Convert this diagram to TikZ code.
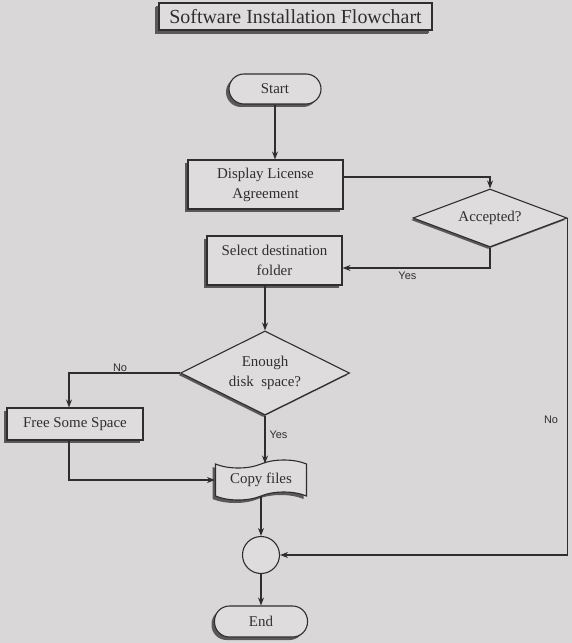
\documentclass[tikz,border=0pt]{standalone}
\usepackage{fontspec}
\setmainfont{Liberation Serif}
\newfontfamily\lblfont{Liberation Sans}
\definecolor{pagegray}{HTML}{D9D7D8}
\definecolor{boxgray}{HTML}{DEDCDD}
\definecolor{inkgray}{HTML}{2F2D2E}
\definecolor{shadegray}{HTML}{5A5859}
\usetikzlibrary{arrows.meta,shapes.geometric,shapes.symbols,shadows}

\begin{document}
\begin{tikzpicture}[
  x=1bp, y=-1bp,
  every node/.style={font=\fontsize{15}{20}\selectfont, text=inkgray},
  castshadow/.style={drop shadow={shadow xshift=-3bp, shadow yshift=-3bp,
              fill=shadegray, opacity=1}},
  box/.style={rectangle, draw=inkgray, fill=boxgray, line width=1.1bp,
              align=center, inner sep=2bp, castshadow},
  term/.style={box, rounded corners=15bp},
  dec/.style={diamond, draw=inkgray, fill=boxgray, line width=1.1bp,
              align=center, inner sep=0pt, aspect=2.4,
              drop shadow={shadow xshift=-2bp, shadow yshift=-2bp,
              fill=shadegray, opacity=1}},
  tapebox/.style={tape, draw=inkgray, fill=boxgray, line width=1.1bp,
              tape bend top=in and out, tape bend bottom=in and out,
              tape bend height=8bp, minimum width=91bp, minimum height=40bp,
              inner sep=2bp, castshadow},
  junc/.style={circle, draw=inkgray, fill=boxgray, line width=1.1bp,
              minimum size=37bp, inner sep=0pt},
  arr/.style={-{Stealth[length=8bp, width=6bp]}, draw=inkgray, line width=1.1bp},
  lbl/.style={font=\lblfont\fontsize{11}{13}\selectfont, inner sep=1bp}
]
  % page
  \fill[pagegray] (0,0) rectangle (572,643);
  \useasboundingbox (0,0) rectangle (572,643);

  \node[box, minimum width=273bp, minimum height=27bp,
        font=\fontsize{20}{24}\selectfont,
        drop shadow={shadow xshift=-4bp, shadow yshift=-4bp, fill=shadegray, opacity=1}]
        (title) at (295.5,16.5) {Software Installation Flowchart};

  \node[term, minimum width=92bp, minimum height=30bp] (start) at (275,89) {Start};
  \node[box, minimum width=155bp, minimum height=49bp] (disp) at (265.5,184.5) {Display License\\Agreement};
  \node[dec, minimum width=154bp, minimum height=58bp] (acc) at (490,218) {Accepted?};
  \node[box, minimum width=135bp, minimum height=49bp] (sel) at (274.5,260.5) {Select destination\\folder};
  \node[dec, minimum width=169bp, minimum height=84bp, aspect=2] (space) at (265,373) {Enough\\disk~ space?};
  \node[box, minimum width=136bp, minimum height=32bp] (free) at (75,424) {Free Some Space};
  \node[tapebox] (copy) at (261,480) {Copy files};
  \node[junc] (merge) at (261,555) {};
  \node[term, minimum width=93bp, minimum height=31bp] (stop) at (261,621.5) {End};

  \draw[arr] (start.south) -- (start.south |- disp.north);
  \draw[arr] ([yshift=7.5bp]disp.east) -| (acc.north);
  \draw[arr] (acc.south) |- ([yshift=-7.5bp]sel.east)
    node[lbl, pos=0.78, below=2bp] {Yes};
  \draw[arr] (space.north |- sel.south) -- (space.north);
  \draw[arr] (space.west) -| ([xshift=-6bp]free.north)
    node[lbl, pos=0.27, above] {No};
  \draw[arr] ([xshift=-6bp]free.south) |- (copy.west);
  \draw[arr] (space.south) -- (space.south |- copy.north)
    node[lbl, pos=0.4, right=3bp] {Yes};
  \draw[arr] (merge.north |- copy.south) -- (merge.north);
  \draw[arr] (acc.east) |- (merge.east)
    node[lbl, pos=0.3, left=8bp] {No};
  \draw[arr] (merge.south) -- (stop.north);
\end{tikzpicture}
\end{document}
